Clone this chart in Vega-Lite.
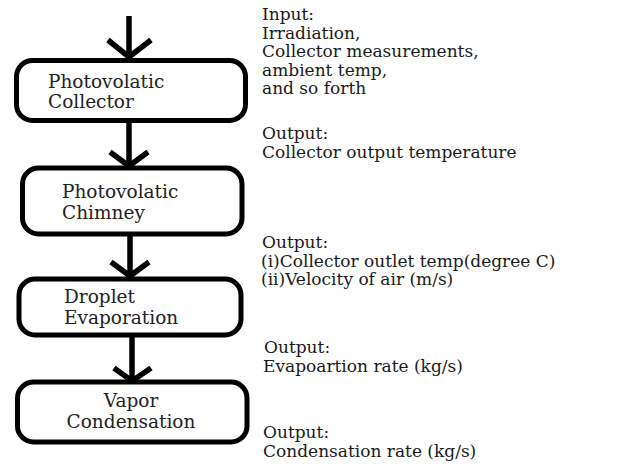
{
  "$schema": "https://vega.github.io/schema/vega-lite/v6.json",
  "width": 626,
  "height": 470,
  "autosize": {"type": "fit", "contains": "padding"},
  "padding": 0,
  "background": "white",
  "config": {"view": {"stroke": null}},
  "datasets": {
    "boxes": [
      {"step": "Photovolatic Collector", "x1": 16.5, "x2": 245.5, "y1": 60.5, "y2": 120.5},
      {"step": "Photovolatic Chimney", "x1": 22.5, "x2": 242, "y1": 168, "y2": 234},
      {"step": "Droplet Evaporation", "x1": 19, "x2": 241, "y1": 279, "y2": 335},
      {"step": "Vapor Condensation", "x1": 17.5, "x2": 247, "y1": 382, "y2": 442}
    ],
    "shafts": [
      {"arrow": "a0", "x": 129, "y1": 16, "y2": 58},
      {"arrow": "a1", "x": 129, "y1": 121, "y2": 166},
      {"arrow": "a2", "x": 130, "y1": 234, "y2": 277},
      {"arrow": "a3", "x": 132, "y1": 335, "y2": 380}
    ],
    "heads": [
      {"arrow": "a0", "seq": 1, "x": 108, "y": 40},
      {"arrow": "a0", "seq": 2, "x": 129, "y": 57},
      {"arrow": "a0", "seq": 3, "x": 151, "y": 40},
      {"arrow": "a1", "seq": 1, "x": 110, "y": 152},
      {"arrow": "a1", "seq": 2, "x": 129, "y": 166},
      {"arrow": "a1", "seq": 3, "x": 148, "y": 152},
      {"arrow": "a2", "seq": 1, "x": 111, "y": 262},
      {"arrow": "a2", "seq": 2, "x": 130, "y": 276},
      {"arrow": "a2", "seq": 3, "x": 149, "y": 262},
      {"arrow": "a3", "seq": 1, "x": 114, "y": 368},
      {"arrow": "a3", "seq": 2, "x": 132, "y": 381},
      {"arrow": "a3", "seq": 3, "x": 151, "y": 368}
    ],
    "boxtext": [
      {"anchor": "left", "x": 48, "y": 87.5, "text": ["Photovolatic", "Collector"]},
      {"anchor": "left", "x": 62, "y": 198, "text": ["Photovolatic", "Chimney"]},
      {"anchor": "left", "x": 64, "y": 303, "text": ["Droplet", "Evaporation"]},
      {"anchor": "center", "x": 131, "y": 407, "text": ["Vapor", "Condensation"]}
    ],
    "notes": [
      {"x": 262, "y": 20, "text": "Input:"},
      {"x": 262, "y": 38.5, "text": "Irradiation,"},
      {"x": 262, "y": 57, "text": "Collector measurements,"},
      {"x": 262, "y": 75.5, "text": "ambient temp,"},
      {"x": 262, "y": 94, "text": "and so forth"},
      {"x": 262, "y": 139, "text": "Output:"},
      {"x": 262, "y": 157.5, "text": "Collector output temperature"},
      {"x": 262, "y": 248, "text": "Output:"},
      {"x": 261, "y": 266.5, "text": "(i)Collector outlet temp(degree C)"},
      {"x": 261, "y": 285, "text": "(ii)Velocity of air (m/s)"},
      {"x": 264, "y": 353, "text": "Output:"},
      {"x": 263, "y": 371.5, "text": "Evapoartion rate (kg/s)"},
      {"x": 263, "y": 438, "text": "Output:"},
      {"x": 263, "y": 456.5, "text": "Condensation rate (kg/s)"}
    ]
  },
  "layer": [
    {
      "data": {"name": "shafts"},
      "mark": {"type": "rule", "color": "black", "strokeWidth": 5.5},
      "encoding": {
        "x": {"field": "x", "type": "quantitative", "scale": {"domain": [0, 626], "nice": false, "zero": false}, "axis": null},
        "y": {"field": "y1", "type": "quantitative", "scale": {"domain": [0, 470], "nice": false, "zero": false, "reverse": true}, "axis": null},
        "y2": {"field": "y2"}
      }
    },
    {
      "data": {"name": "heads"},
      "mark": {"type": "line", "color": "black", "strokeWidth": 5.5, "strokeJoin": "miter"},
      "encoding": {
        "x": {"field": "x", "type": "quantitative", "scale": {"domain": [0, 626], "nice": false, "zero": false}, "axis": null},
        "y": {"field": "y", "type": "quantitative", "scale": {"domain": [0, 470], "nice": false, "zero": false, "reverse": true}, "axis": null},
        "detail": {"field": "arrow", "type": "nominal"},
        "order": {"field": "seq", "type": "quantitative"}
      }
    },
    {
      "data": {"name": "boxes"},
      "mark": {"type": "rect", "fill": "white", "stroke": "black", "strokeWidth": 5, "cornerRadius": 16},
      "encoding": {
        "x": {"field": "x1", "type": "quantitative", "scale": {"domain": [0, 626], "nice": false, "zero": false}, "axis": null},
        "x2": {"field": "x2"},
        "y": {"field": "y1", "type": "quantitative", "scale": {"domain": [0, 470], "nice": false, "zero": false, "reverse": true}, "axis": null},
        "y2": {"field": "y2"}
      }
    },
    {
      "data": {"name": "boxtext"},
      "transform": [{"filter": "datum.anchor === 'left'"}],
      "mark": {"type": "text", "align": "left", "baseline": "alphabetic", "lineHeight": 20.5, "font": "DejaVu Serif", "fontSize": 18.5, "color": "#222222"},
      "encoding": {
        "x": {"field": "x", "type": "quantitative", "scale": {"domain": [0, 626], "nice": false, "zero": false}, "axis": null},
        "y": {"field": "y", "type": "quantitative", "scale": {"domain": [0, 470], "nice": false, "zero": false, "reverse": true}, "axis": null},
        "text": {"field": "text", "type": "nominal"}
      }
    },
    {
      "data": {"name": "boxtext"},
      "transform": [{"filter": "datum.anchor === 'center'"}],
      "mark": {"type": "text", "align": "center", "baseline": "alphabetic", "lineHeight": 20.5, "font": "DejaVu Serif", "fontSize": 18.5, "color": "#222222"},
      "encoding": {
        "x": {"field": "x", "type": "quantitative", "scale": {"domain": [0, 626], "nice": false, "zero": false}, "axis": null},
        "y": {"field": "y", "type": "quantitative", "scale": {"domain": [0, 470], "nice": false, "zero": false, "reverse": true}, "axis": null},
        "text": {"field": "text", "type": "nominal"}
      }
    },
    {
      "data": {"name": "notes"},
      "mark": {"type": "text", "align": "left", "baseline": "alphabetic", "font": "DejaVu Serif", "fontSize": 17, "color": "#1a1a1a"},
      "encoding": {
        "x": {"field": "x", "type": "quantitative", "scale": {"domain": [0, 626], "nice": false, "zero": false}, "axis": null},
        "y": {"field": "y", "type": "quantitative", "scale": {"domain": [0, 470], "nice": false, "zero": false, "reverse": true}, "axis": null},
        "text": {"field": "text", "type": "nominal"}
      }
    }
  ]
}
